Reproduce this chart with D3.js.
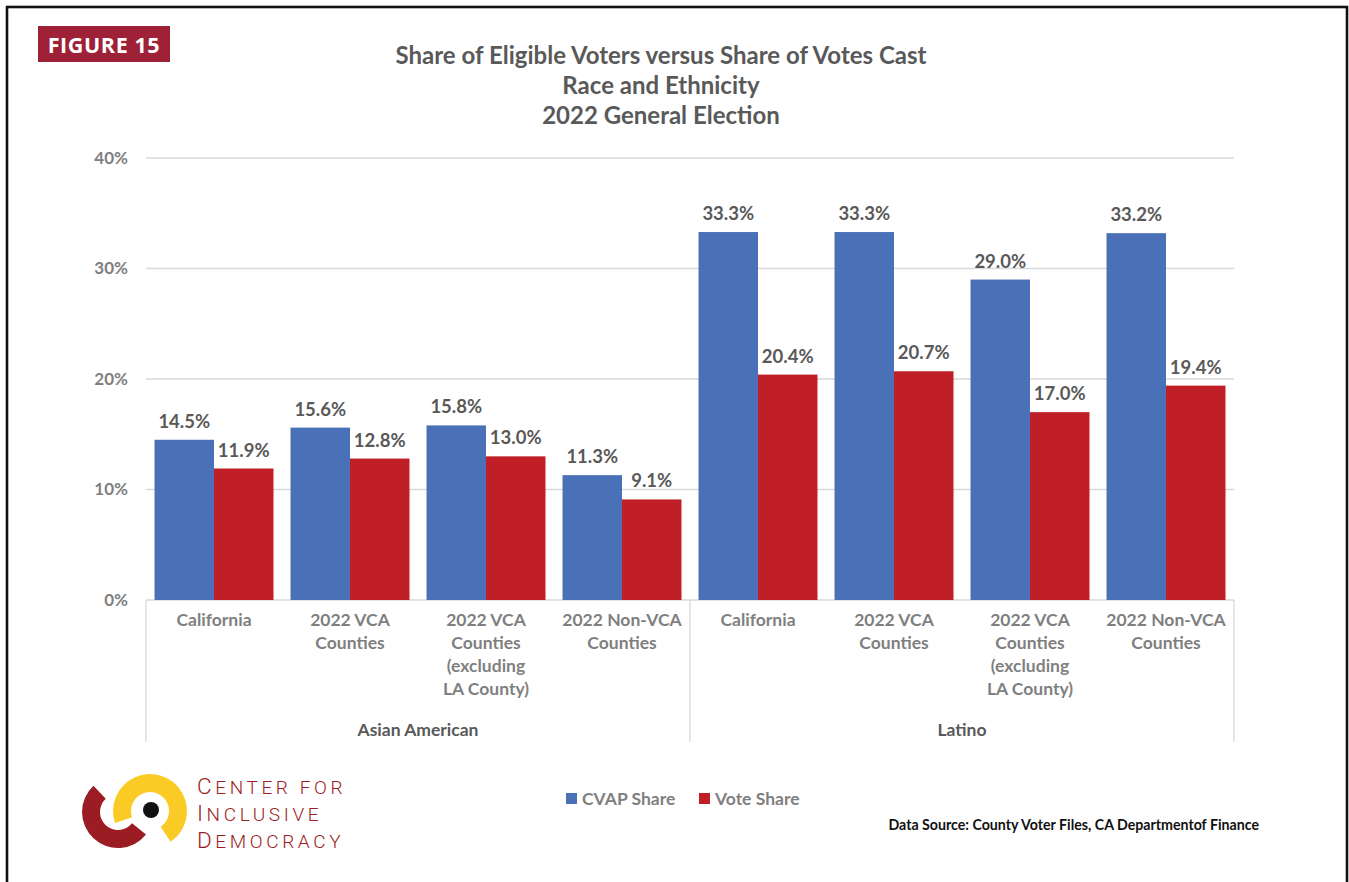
<!DOCTYPE html>
<html>
<head>
<meta charset="utf-8">
<script src="https://cdn.jsdelivr.net/npm/d3@7"></script>
<style>
  html, body { margin: 0; padding: 0; background: #fff; }
  svg { display: block; }
</style>
</head>
<body>
<script>
// Chart data
const groups = ["Asian American", "Latino"];
const categories = [
  ["California"],
  ["2022 VCA", "Counties"],
  ["2022 VCA", "Counties", "(excluding", "LA County)"],
  ["2022 Non-VCA", "Counties"],
  ["California"],
  ["2022 VCA", "Counties"],
  ["2022 VCA", "Counties", "(excluding", "LA County)"],
  ["2022 Non-VCA", "Counties"]
];
const categoryGroup = [0, 0, 0, 0, 1, 1, 1, 1];
const seriesNames = ["CVAP Share", "Vote Share"];
const cvapShare = [14.5, 15.6, 15.8, 11.3, 33.3, 33.3, 29.0, 33.2];
const voteShare = [11.9, 12.8, 13.0, 9.1, 20.4, 20.7, 17.0, 19.4];
const yTicks = [0, 10, 20, 30, 40];
const titleLines = ["Share of Eligible Voters versus Share of Votes Cast", "Race and Ethnicity", "2022 General Election"];

const W = 1349, H = 882;
const colors = ["#4A71B8", "#C01F27"];
const FONT = "Lato, 'Open Sans', sans-serif";

const svg = d3.select("body").append("svg").attr("width", W).attr("height", H);
svg.append("rect").attr("width", W).attr("height", H).attr("fill", "#fff");

// page frame
svg.append("rect").attr("x", 7).attr("y", 7).attr("width", 1340).attr("height", 900)
  .attr("fill", "none").attr("stroke", "#111").attr("stroke-width", 2.6);

// figure badge
svg.append("rect").attr("x", 38).attr("y", 26).attr("width", 132).attr("height", 36).attr("fill", "#9E2137");
svg.append("text").attr("x", 104).attr("y", 52.5).attr("text-anchor", "middle")
  .attr("font-family", "'Open Sans', sans-serif").attr("font-weight", 700).attr("font-size", 21.5)
  .attr("letter-spacing", 0.6).attr("fill", "#fff").text("FIGURE 15");

// title
svg.append("g").selectAll("text").data(titleLines).join("text")
  .attr("x", 661).attr("y", (d, i) => 64 + i * 30).attr("text-anchor", "middle")
  .attr("font-family", FONT).attr("font-weight", 700).attr("font-size", 24)
  .attr("fill", "#595959").text(d => d);

// scales
const x0 = d3.scaleBand().domain(d3.range(categories.length)).range([146, 1234]).padding(0);
const x1 = d3.scaleBand().domain([0, 1]).range([0, x0.bandwidth()]).paddingInner(0).paddingOuter(0.143);
const y = d3.scaleLinear().domain([0, 40]).range([600, 158]);

// gridlines
svg.append("g").selectAll("line").data(yTicks).join("line")
  .attr("x1", 146).attr("x2", 1234).attr("y1", d => y(d)).attr("y2", d => y(d))
  .attr("stroke", "#D9D9D9").attr("stroke-width", 1.3);

// y axis labels
const yAxis = d3.axisLeft(y).tickValues(yTicks).tickFormat(d => d + "%").tickSize(0).tickPadding(0);
const yg = svg.append("g").attr("transform", "translate(128,0)").call(yAxis);
yg.select(".domain").remove();
yg.selectAll("text").attr("font-family", FONT).attr("font-weight", 700).attr("font-size", 17)
  .attr("fill", "#7F7F7F");

// bars
const rows = categories.map((c, i) => [cvapShare[i], voteShare[i]]);
const cat = svg.append("g").selectAll("g").data(rows).join("g")
  .attr("transform", (d, i) => `translate(${x0(i)},0)`);
cat.selectAll("rect").data(d => d.map((v, s) => ({ v, s }))).join("rect")
  .attr("x", d => x1(d.s)).attr("width", x1.bandwidth())
  .attr("y", d => y(d.v)).attr("height", d => y(0) - y(d.v))
  .attr("fill", d => colors[d.s]);
cat.selectAll("text").data(d => d.map((v, s) => ({ v, s }))).join("text")
  .attr("x", d => x1(d.s) + x1.bandwidth() / 2).attr("y", d => y(d.v) - 12)
  .attr("text-anchor", "middle").attr("font-family", FONT).attr("font-weight", 700).attr("font-size", 18.5)
  .attr("fill", "#595959").text(d => d.v.toFixed(1) + "%");

// category axis with group separators
svg.append("g").selectAll("line").data([0, 4, 8]).join("line")
  .attr("x1", d => d < 8 ? x0(d) : x0.range()[1]).attr("x2", d => d < 8 ? x0(d) : x0.range()[1])
  .attr("y1", 600).attr("y2", 742).attr("stroke", "#D9D9D9").attr("stroke-width", 1.3);

const catLabels = svg.append("g").selectAll("text").data(categories).join("text")
  .attr("text-anchor", "middle").attr("font-family", FONT).attr("font-weight", 700).attr("font-size", 17.5)
  .attr("fill", "#7F7F7F");
catLabels.selectAll("tspan").data((d, i) => d.map(line => ({ line, i }))).join("tspan")
  .attr("x", d => x0(d.i) + x0.bandwidth() / 2).attr("y", (d, j) => 626 + j * 23).text(d => d.line);

svg.append("g").selectAll("text").data(groups).join("text")
  .attr("x", (d, g) => {
    const idx = categoryGroup.map((cg, i) => cg === g ? i : -1).filter(i => i >= 0);
    return (x0(idx[0]) + x0(idx[idx.length - 1]) + x0.bandwidth()) / 2;
  })
  .attr("y", 736).attr("text-anchor", "middle").attr("font-family", FONT).attr("font-weight", 700)
  .attr("font-size", 17.5).attr("fill", "#595959").text(d => d);

// legend
const legendX = [566, 699];
const lg = svg.append("g").selectAll("g").data(seriesNames).join("g")
  .attr("transform", (d, i) => `translate(${legendX[i]},793)`);
lg.append("rect").attr("width", 11).attr("height", 11).attr("fill", (d, i) => colors[i]);
lg.append("text").attr("x", 16).attr("y", 12).attr("font-family", FONT).attr("font-weight", 700)
  .attr("font-size", 17.5).attr("fill", "#7F7F7F").text(d => d);

// source note
svg.append("text").attr("x", 1259).attr("y", 830).attr("text-anchor", "end")
  .attr("font-family", FONT).attr("font-weight", 700).attr("font-size", 14.2).attr("fill", "#111")
  .text("Data Source: County Voter Files, CA Departmentof Finance");

// organisation logo
const logo = svg.append("g");
const arc = d3.arc();
logo.append("path").attr("transform", "translate(118,812)")
  .attr("d", arc({ innerRadius: 18, outerRadius: 36, startAngle: -0.75, endAngle: -Math.PI * 2 + 2.25 }))
  .attr("fill", "#9B1C22");
logo.append("path").attr("transform", "translate(150,811)")
  .attr("d", arc({ innerRadius: 19, outerRadius: 37, startAngle: -1.9, endAngle: 2.55 }))
  .attr("fill", "#FBCB25");
logo.append("circle").attr("cx", 151).attr("cy", 810).attr("r", 8).attr("fill", "#111");

// wordmark in small caps, three stacked lines
const logoLines = [["C", "ENTER FOR"], ["I", "NCLUSIVE"], ["D", "EMOCRACY"]];
const lt = logo.selectAll("text.logo").data(logoLines).join("text").attr("class", "logo")
  .attr("x", 197).attr("y", (d, i) => 794 + i * 27)
  .attr("font-family", "Roboto, 'Noto Sans', sans-serif").attr("font-weight", 300).attr("fill", "#9B1C22")
  .attr("letter-spacing", 3.6);
lt.append("tspan").attr("font-size", 22.5).text(d => d[0]);
lt.append("tspan").attr("font-size", 19).text(d => d[1]);
</script>
</body>
</html>
